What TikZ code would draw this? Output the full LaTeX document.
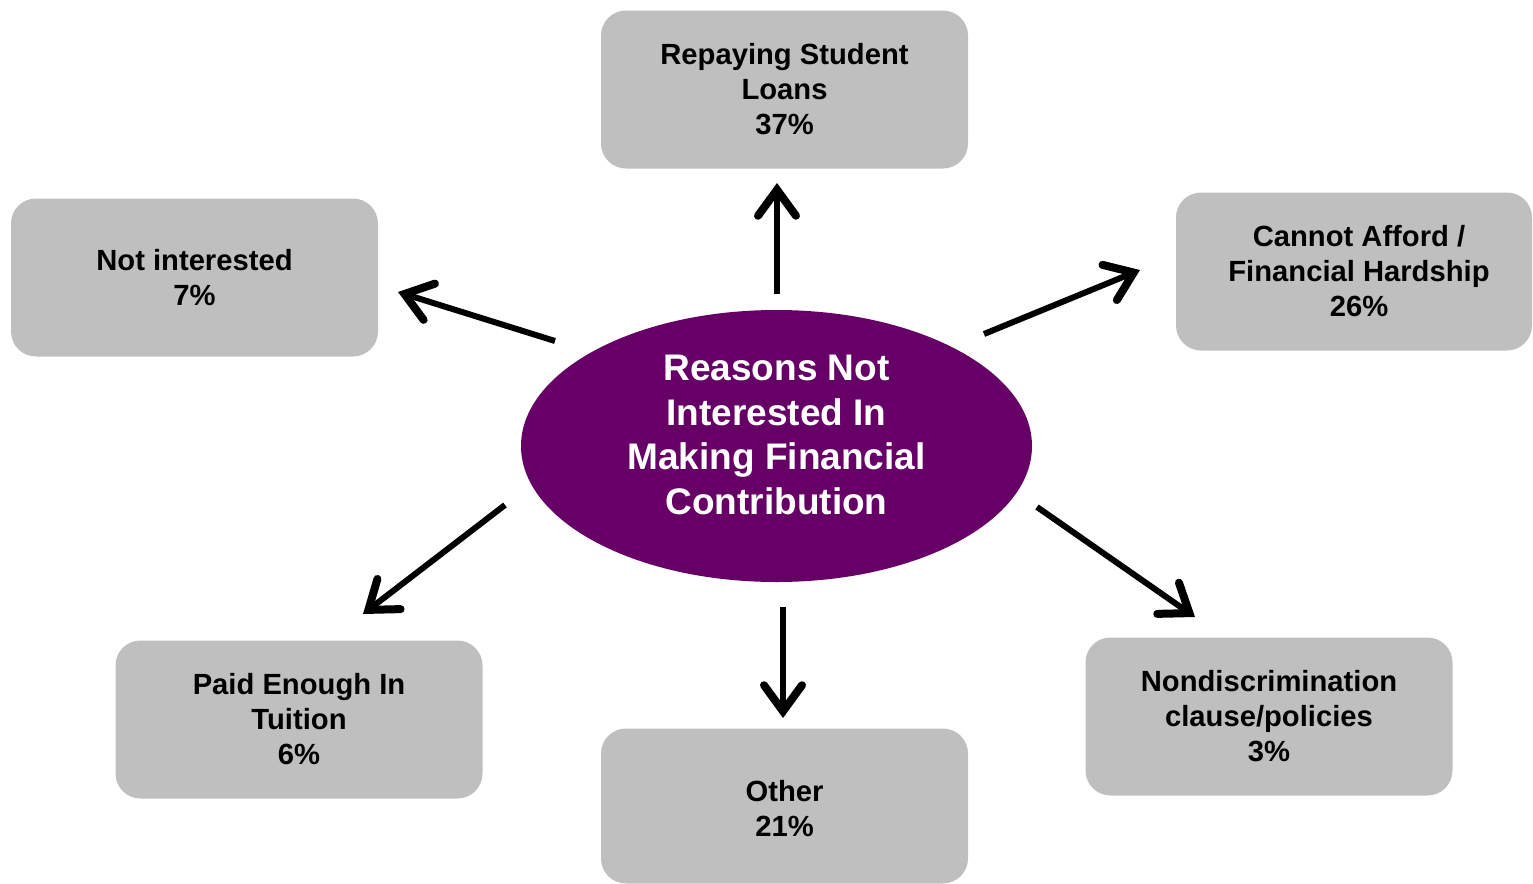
\documentclass[tikz,border=0pt]{standalone}
\usepackage{fontspec}
\setmainfont{Liberation Sans}
\usetikzlibrary{arrows.meta,shapes.geometric}
\definecolor{boxgray}{RGB}{191,191,191}
\definecolor{purp}{RGB}{102,0,102}
\tikzset{
  reason/.style={draw=none, fill=boxgray, rounded corners=12.5pt, minimum width=183.5pt,
    minimum height=79pt, inner sep=0pt, align=center,
    font=\fontsize{14.6}{17.5}\selectfont\bfseries},
  hub/.style={ellipse, fill=purp, draw=none, minimum width=255.5pt, minimum height=136pt, inner sep=0pt},
  hubtext/.style={text=white, align=center, font=\fontsize{18.5}{22.4}\selectfont\bfseries},
  link/.style={line width=3pt, -{Straight Barb[length=13pt,width=19pt,line width=4pt,line cap=round]}}
}
\begin{document}
\begin{tikzpicture}[x=0.5pt,y=-0.5pt]
\useasboundingbox (0,0) rectangle (1533,884);
\node[hub] (hub) at (776.5,446) {};
\node[hubtext] (hubt) at (776.5,435) {Reasons Not\\Interested In\\Making Financial\\Contribution};
\node[reason] (loans) at (784.5,89.5) {Repaying Student\\Loans\\37\%};
\node[reason] (notint) at (194.5,277.5) {Not interested\\7\%};
\node[reason, minimum width=178pt] (afford) at (1354,271.5) {\hspace*{5pt}Cannot Afford /\\\hspace*{5pt}Financial Hardship\\\hspace*{5pt}26\%};
\node[reason] (tuition) at (299,719.5) {Paid Enough In\\Tuition\\6\%};
\node[reason, minimum height=77.5pt] (other) at (784.5,806) {\\[-4pt]Other\\21\%};
\node[reason] (nondisc) at (1269,716.5) {Nondiscrimination\\clause/policies\\3\%};
\coordinate (aup0) at (777,294); \coordinate (aup1) at (777,183);
\coordinate (al0) at (555,341); \coordinate (al1) at (398,292);
\coordinate (ar0) at (984,334); \coordinate (ar1) at (1140,270);
\coordinate (abl0) at (505,505); \coordinate (abl1) at (363,614);
\coordinate (ab0) at (783,607); \coordinate (ab1) at (783,718);
\coordinate (abr0) at (1037,507); \coordinate (abr1) at (1195,617);
\draw[link] (aup0) -- (aup1);
\draw[link] (al0) -- (al1);
\draw[link] (ar0) -- (ar1);
\draw[link] (abl0) -- (abl1);
\draw[link] (ab0) -- (ab1);
\draw[link] (abr0) -- (abr1);
\end{tikzpicture}
\end{document}
